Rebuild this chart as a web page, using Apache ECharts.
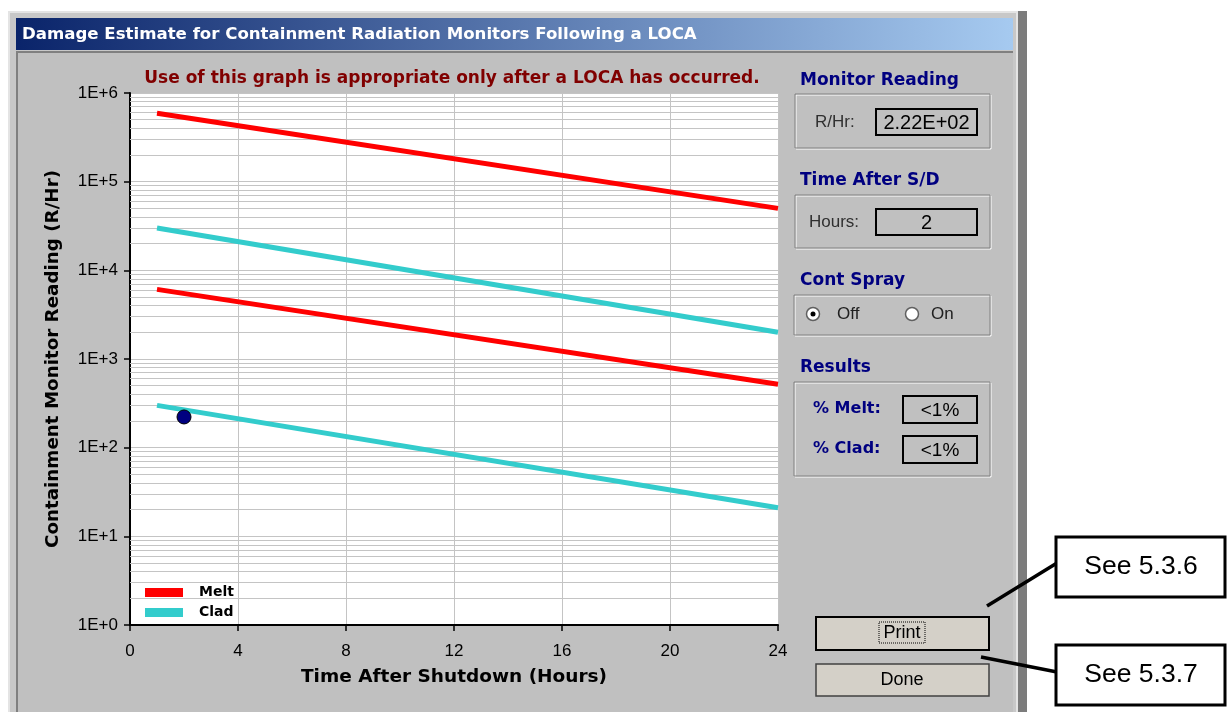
<!DOCTYPE html>
<html>
<head>
<meta charset="utf-8">
<script src="https://cdn.jsdelivr.net/npm/echarts@6/dist/echarts.min.js"></script>
<style>
html,body{margin:0;padding:0;background:#fff;}
#chart{width:1230px;height:712px;}
</style>
</head>
<body>
<div id="chart"></div>
<script>
// ---- data ----
const hours = [1, 24];
const meltHigh = [5.9e5, 5.0e4];
const meltLow = [6.1e3, 5.2e2];
const cladHigh = [3.0e4, 2.0e3];
const cladLow = [3.0e2, 2.1e1];
const readingPoint = [2, 222];
const xTickInterval = 4;
const yDecades = [1, 10, 100, 1000, 10000, 100000];
const minorMultipliers = [2, 3, 4, 5, 6, 7, 8, 9];
const monitorReading = '2.22E+02';
const timeAfterSD = '2';
const pctMelt = '<1%';
const pctClad = '<1%';

const pairs = (xs, ys) => xs.map((x, i) => [x, ys[i]]);
const minorGrid = [];
yDecades.forEach(d => minorMultipliers.forEach(m => minorGrid.push({ yAxis: d * m })));

const UI = 'Liberation Sans, Arial, sans-serif';
const BOLD = 'DejaVu Sans, Verdana, sans-serif';
const navy = '#000080';

function groupBox(x, y, w, h) {
  return [
    { type: 'rect', z: -5, shape: { x: x + 1, y: y + 1, width: w, height: h }, style: { fill: 'none', stroke: '#ffffff', lineWidth: 1 } },
    { type: 'rect', z: -4, shape: { x: x, y: y, width: w, height: h }, style: { fill: 'none', stroke: '#808080', lineWidth: 1 } }
  ];
}
function valueBox(x, y, w, h, text, size) {
  return [
    { type: 'rect', z: -3, shape: { x: x, y: y, width: w, height: h }, style: { fill: '#c0c0c0', stroke: '#000', lineWidth: 2 } },
    { type: 'text', z: -2, style: { text: text, x: x + w / 2, y: y + h / 2 + 1, textAlign: 'center', textVerticalAlign: 'middle', font: (size || 17) + 'px ' + UI, fill: '#000' } }
  ];
}
function label(text, x, y, opts) {
  opts = opts || {};
  return { type: 'text', z: -2, style: { text: text, x: x, y: y, textAlign: opts.align || 'left', textVerticalAlign: 'middle', font: (opts.weight || 'normal') + ' ' + (opts.size || 16) + 'px ' + (opts.family || UI), fill: opts.color || '#000' } };
}

const graphics = [
  // window frame
  { type: 'rect', z: -10, shape: { x: 8, y: 11, width: 1019, height: 701 }, style: { fill: '#7c7c7c' } },
  { type: 'rect', z: -9, shape: { x: 8, y: 11, width: 1010, height: 701 }, style: { fill: '#e4e4e4' } },
  { type: 'rect', z: -9, shape: { x: 10, y: 13, width: 1006, height: 699 }, style: { fill: '#c8c8c8' } },
  { type: 'rect', z: -8, shape: { x: 16, y: 18, width: 997, height: 32 }, style: { fill: { type: 'linear', x: 0, y: 0, x2: 1, y2: 0, colorStops: [{ offset: 0, color: '#0a246a' }, { offset: 1, color: '#a6caf0' }] } } },
  label('Damage Estimate for Containment Radiation Monitors Following a LOCA', 22, 35, { weight: 'bold', size: 16.6, color: '#ffffff', family: BOLD }),
  { type: 'rect', z: -8, shape: { x: 16, y: 51, width: 997, height: 661 }, style: { fill: '#808080' } },
  { type: 'rect', z: -7, shape: { x: 18, y: 53, width: 995, height: 659 }, style: { fill: '#c0c0c0' } },
  // subtitle
  label('Use of this graph is appropriate only after a LOCA has occurred.', 452, 79, { weight: 'bold', size: 17, color: '#800000', align: 'center', family: BOLD }),
  // Monitor reading
  label('Monitor Reading', 800, 81, { weight: 'bold', size: 17, color: navy, family: BOLD }),
  ...groupBox(795, 94, 195, 54),
  label('R/Hr:', 815, 122, { size: 17, color: '#303030' }),
  ...valueBox(876, 109, 101, 26, monitorReading, 20),
  // Time after S/D
  label('Time After S/D', 800, 181, { weight: 'bold', size: 17, color: navy, family: BOLD }),
  ...groupBox(795, 195, 195, 53),
  label('Hours:', 809, 222, { size: 17, color: '#303030' }),
  ...valueBox(876, 209, 101, 26, timeAfterSD, 20),
  // Cont spray
  label('Cont Spray', 800, 281, { weight: 'bold', size: 17, color: navy, family: BOLD }),
  ...groupBox(794, 295, 196, 40),
  { type: 'circle', z: -3, shape: { cx: 813, cy: 314, r: 6.5 }, style: { fill: '#fff', stroke: '#606060', lineWidth: 1.5 } },
  { type: 'circle', z: -2, shape: { cx: 813, cy: 314, r: 2.5 }, style: { fill: '#000' } },
  label('Off', 837, 314, { size: 17, color: '#202020' }),
  { type: 'circle', z: -3, shape: { cx: 912, cy: 314, r: 6.5 }, style: { fill: '#fff', stroke: '#606060', lineWidth: 1.5 } },
  label('On', 931, 314, { size: 17, color: '#202020' }),
  // Results
  label('Results', 800, 368, { weight: 'bold', size: 17, color: navy, family: BOLD }),
  ...groupBox(794, 382, 196, 94),
  label('% Melt:', 813, 409, { weight: 'bold', size: 16, color: navy, family: BOLD }),
  ...valueBox(903, 396, 74, 27, pctMelt, 19),
  label('% Clad:', 813, 449, { weight: 'bold', size: 16, color: navy, family: BOLD }),
  ...valueBox(903, 436, 74, 27, pctClad, 19),
  // buttons
  { type: 'rect', z: -3, shape: { x: 816, y: 617, width: 173, height: 33 }, style: { fill: '#d4d0c8', stroke: '#000', lineWidth: 2 } },
  { type: 'rect', z: -2, shape: { x: 879, y: 622, width: 46, height: 21 }, style: { fill: 'none', stroke: '#000', lineWidth: 1, lineDash: [1, 1] } },
  label('Print', 902, 633, { size: 18, color: '#000', align: 'center' }),
  { type: 'rect', z: -3, shape: { x: 816, y: 664, width: 173, height: 32 }, style: { fill: '#d4d0c8', stroke: '#404040', lineWidth: 1.5 } },
  label('Done', 902, 680, { size: 18, color: '#000', align: 'center' }),
  // callouts
  { type: 'line', z: -2, shape: { x1: 987, y1: 606, x2: 1057, y2: 563 }, style: { stroke: '#000', lineWidth: 3.5 } },
  { type: 'rect', z: -2, shape: { x: 1056, y: 537, width: 169, height: 60 }, style: { fill: '#fff', stroke: '#000', lineWidth: 3 } },
  label('See 5.3.6', 1141, 567, { size: 26.5, color: '#000', align: 'center' }),
  { type: 'line', z: -2, shape: { x1: 981, y1: 657, x2: 1057, y2: 672 }, style: { stroke: '#000', lineWidth: 3.5 } },
  { type: 'rect', z: -2, shape: { x: 1056, y: 645, width: 169, height: 60 }, style: { fill: '#fff', stroke: '#000', lineWidth: 3 } },
  label('See 5.3.7', 1141, 675, { size: 26.5, color: '#000', align: 'center' })
];

const chart = echarts.init(document.getElementById('chart'));
const lineSeries = (name, color, ys) => ({
  name: name, type: 'line', data: pairs(hours, ys),
  showSymbol: false, symbol: 'none', lineStyle: { color: color, width: 5 }, itemStyle: { color: color },
  emphasis: { disabled: true }, z: 5, animation: false
});

chart.setOption({
  backgroundColor: '#ffffff',
  animation: false,
  graphic: graphics,
  grid: { left: 130, top: 93, width: 648, height: 532, show: true, backgroundColor: '#ffffff', borderWidth: 0 },
  legend: {
    data: ['Melt', 'Clad'], orient: 'vertical', left: 145, top: 585, padding: 0,
    icon: 'rect', itemWidth: 38, itemHeight: 9, itemGap: 5, selectedMode: false,
    textStyle: { fontFamily: 'DejaVu Sans', fontWeight: 'bold', fontSize: 14, color: '#000', padding: [0, 0, 0, 11], lineHeight: 15 }
  },
  xAxis: {
    type: 'value', min: 0, max: 24, interval: xTickInterval,
    name: 'Time After Shutdown (Hours)', nameLocation: 'middle', nameGap: 43,
    nameTextStyle: { fontFamily: BOLD, fontWeight: 'bold', fontSize: 18.5, color: '#000' },
    axisLine: { show: true, lineStyle: { color: '#000', width: 2 } },
    axisTick: { show: true, length: 6, lineStyle: { color: '#000', width: 1.5 } },
    axisLabel: { margin: 18, fontFamily: UI, fontSize: 17, color: '#000' },
    splitLine: { show: true, lineStyle: { color: '#c4c4c4', width: 1 } }
  },
  yAxis: {
    type: 'log', logBase: 10, min: 1, max: 1e6, splitNumber: 6,
    name: 'Containment Monitor Reading (R/Hr)', nameLocation: 'middle', nameGap: 68,
    nameTextStyle: { fontFamily: BOLD, fontWeight: 'bold', fontSize: 18.3, color: '#000' },
    axisLine: { show: true, lineStyle: { color: '#000', width: 2 } },
    axisTick: { show: true, length: 6, lineStyle: { color: '#000', width: 1.5 } },
    axisLabel: { margin: 12, fontFamily: UI, fontSize: 17, color: '#000',
      formatter: v => '1E+' + Math.round(Math.log10(v)) },
    splitLine: { show: true, lineStyle: { color: '#c4c4c4', width: 1 } }
  },
  series: [
    {
      name: 'grid', type: 'line', data: [], z: 1, silent: true,
      markLine: { silent: true, symbol: 'none', label: { show: false }, animation: false,
        lineStyle: { color: '#c4c4c4', width: 1, type: 'solid' }, data: minorGrid }
    },
    lineSeries('Melt', '#ff0000', meltHigh),
    lineSeries('Clad', '#33cccc', cladHigh),
    lineSeries('Melt', '#ff0000', meltLow),
    lineSeries('Clad', '#33cccc', cladLow),
    {
      name: 'Reading', type: 'scatter', data: [readingPoint], symbolSize: 14, z: 6,
      itemStyle: { color: '#000080', borderColor: '#000', borderWidth: 1, opacity: 1 }
    }
  ]
});
</script>
</body>
</html>
